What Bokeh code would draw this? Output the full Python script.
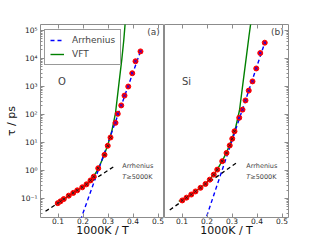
from bokeh.plotting import figure
from bokeh.layouts import row
from bokeh.models import (Range1d, LogAxis, LinearAxis, FixedTicker,
                          CustomJSTickFormatter, Label, CustomLabelingPolicy)
from bokeh.embed import file_html
from bokeh.resources import INLINE

# ---------------- data (x = 1000K/T, tau in ps) ----------------
o_x = [0.099, 0.110, 0.123, 0.143, 0.161, 0.177, 0.197, 0.214, 0.230, 0.243, 0.261,
       0.286, 0.299, 0.310, 0.330, 0.339, 0.353, 0.366, 0.381, 0.397, 0.410, 0.430]
o_tau = [0.068, 0.079, 0.095, 0.126, 0.158, 0.195, 0.25, 0.32, 0.44, 0.60, 1.20,
         3.6, 7.6, 15, 50, 105, 210, 470, 990, 2950, 7900, 17800]
o_vft_x = [0.090, 0.120, 0.150, 0.180, 0.210, 0.240, 0.260, 0.280, 0.300, 0.315,
           0.330, 0.345, 0.355, 0.363, 0.370]
o_vft_tau = [0.060, 0.093, 0.135, 0.20, 0.31, 0.575, 1.10, 2.8, 8.5, 25,
             112, 1585, 8900, 43600, 251000]
o_arr_lo_x = [0.19, 0.432]
o_arr_lo_tau = [0.0168, 20000]
o_arr_hi_x = [0.05, 0.33]
o_arr_hi_tau = [0.0347, 1.50]

si_x = [0.101, 0.118, 0.137, 0.154, 0.174, 0.194, 0.211, 0.227, 0.241, 0.261, 0.278,
        0.291, 0.301, 0.310, 0.329, 0.342, 0.354, 0.367, 0.382, 0.397, 0.413, 0.431]
si_tau = [0.085, 0.107, 0.138, 0.178, 0.24, 0.33, 0.47, 0.71, 1.07, 2.14, 4.2,
          7.8, 13.5, 25, 76, 148, 316, 708, 1510, 4370, 15500, 36300]
si_vft_x = [0.087, 0.120, 0.150, 0.180, 0.210, 0.240, 0.260, 0.280, 0.300, 0.315,
            0.330, 0.345, 0.358, 0.368, 0.378]
si_vft_tau = [0.078, 0.112, 0.17, 0.263, 0.457, 1.05, 2.09, 4.8, 13.2, 35.5,
              141, 1585, 12600, 63000, 282000]
si_arr_lo_x = [0.19, 0.433]
si_arr_lo_tau = [0.0135, 40700]
si_arr_hi_x = [0.051, 0.321]
si_arr_hi_tau = [0.0389, 1.95]

panel_tags = ["(a)", "(b)"]
species = ["O", "Si"]
x_title = "1000K / T"
y_title = "τ / ps"
x_ticks = [0.1, 0.2, 0.3, 0.4, 0.5]
y_major = [1e-1, 1, 1e1, 1e2, 1e3, 1e4, 1e5]
y_minor = [m * 10.0 ** k for k in range(-2, 6) for m in range(2, 10)]

FONT = "DejaVu Sans"
XR = (0.03, 0.526)
YR = (10 ** -1.68, 10 ** 5.21)
GRAY = "#8c8c8c"

sup_code = """
const sup = {"-":"\u207b","0":"\u2070","1":"\u00b9","2":"\u00b2","3":"\u00b3","4":"\u2074",
             "5":"\u2075","6":"\u2076","7":"\u2077","8":"\u2078","9":"\u2079"};
const e = Math.round(Math.log10(tick));
return "10" + String(e).split("").map(c => sup[c]).join("");
"""


def style_axis(ax, labels, standoff=2):
    ax.axis_line_color = None
    ax.major_tick_in = 4
    ax.major_tick_out = 0
    ax.minor_tick_in = 2
    ax.minor_tick_out = 0
    ax.major_tick_line_color = GRAY
    ax.minor_tick_line_color = GRAY
    ax.major_label_text_font = FONT
    ax.major_label_text_color = "#222222"
    ax.axis_label_text_font = FONT
    ax.axis_label_text_font_style = "normal"
    ax.axis_label_text_color = "#111111"
    ax.axis_label_text_font_size = "11px"
    if labels:
        ax.major_label_text_font_size = "7.5px"
        ax.major_label_standoff = standoff
    else:
        ax.major_label_text_font_size = "1px"
        ax.major_label_standoff = 0
        ax.major_label_policy = CustomLabelingPolicy(code="return new Set()")


def make_panel(idx, xs, taus, vx, vt, lox, lot, hix, hit, first):
    p = figure(width=164 if first else 148, height=240,
               x_range=Range1d(*XR), y_range=Range1d(*YR), y_axis_type="log",
               output_backend="svg", toolbar_location=None,
               min_border_left=40 if first else 0, min_border_right=0 if first else 24,
               min_border_top=24, min_border_bottom=23)
    p.grid.visible = False
    p.outline_line_color = GRAY
    p.background_fill_color = "white"
    p.border_fill_color = "white"

    xa = p.xaxis[0]
    xa.ticker = FixedTicker(ticks=x_ticks)
    style_axis(xa, True, 0)
    xa.axis_label = x_title
    xa.axis_label_standoff = -3

    ya = p.yaxis[0]
    if first:
        ya.ticker = FixedTicker(ticks=y_major, minor_ticks=y_minor)
        ya.formatter = CustomJSTickFormatter(code=sup_code)
        style_axis(ya, True, 3)
        ya.axis_label = y_title
        ya.axis_label_standoff = 0
    else:
        ya.visible = False

    top = LinearAxis(ticker=FixedTicker(ticks=x_ticks))
    style_axis(top, False)
    p.add_layout(top, "above")

    # lines
    p.line(hix, hit, line_color="black", line_dash="4 3", line_width=1.3)
    if first:
        p.line(vx, vt, line_color="#008000", line_width=1.4, legend_label="VFT")
        p.line(lox, lot, line_color="#0000ff", line_dash="4 3", line_width=1.4,
               legend_label="Arrhenius")
    else:
        p.line(vx, vt, line_color="#008000", line_width=1.4)
        p.line(lox, lot, line_color="#0000ff", line_dash="4 3", line_width=1.4)

    # points
    p.scatter(xs, taus, marker="circle", size=5, fill_color="#ff0000", line_color="#ff0000")
    cols = ["#0000ff" if x >= 0.32 else "#222222" for x in xs]
    p.scatter(xs, taus, marker="x", size=3.5, line_color=cols, line_width=1)

    # annotations
    p.add_layout(Label(x=0.507, y=10 ** 4.93, text=panel_tags[idx], text_font=FONT,
                       text_font_size="9px", text_align="right", text_baseline="middle"))
    p.add_layout(Label(x=0.100, y=10 ** 3.19, text=species[idx], text_font=FONT,
                       text_font_size="10px", text_align="left", text_baseline="middle"))
    p.add_layout(Label(x=0.357, y=10 ** 0.15, text="Arrhenius", text_font=FONT,
                       text_font_size="6.5px", text_align="left", text_baseline="middle"))
    p.add_layout(Label(x=0.357, y=10 ** -0.22, text="T", text_font=FONT,
                       text_font_style="italic",
                       text_font_size="6.5px", text_align="left", text_baseline="middle"))
    p.add_layout(Label(x=0.357, y=10 ** -0.22, x_offset=4, text="≥5000K", text_font=FONT,
                       text_font_size="6.5px", text_align="left", text_baseline="middle"))

    if first:
        lg = p.legend[0]
        lg.location = (4, 152)
        lg.label_text_font = FONT
        lg.label_text_font_size = "9px"
        lg.glyph_width = 14
        lg.glyph_height = 10
        lg.label_standoff = 8
        lg.padding = 5
        lg.spacing = 4
        lg.margin = 0
        lg.border_line_color = "#333333"
        lg.border_line_width = 1
        lg.background_fill_alpha = 1
        lg.items = [lg.items[1], lg.items[0]]
    return p


p1 = make_panel(0, o_x, o_tau, o_vft_x, o_vft_tau, o_arr_lo_x, o_arr_lo_tau,
                o_arr_hi_x, o_arr_hi_tau, True)
p2 = make_panel(1, si_x, si_tau, si_vft_x, si_vft_tau, si_arr_lo_x, si_arr_lo_tau,
                si_arr_hi_x, si_arr_hi_tau, False)

r1 = LogAxis(ticker=FixedTicker(ticks=y_major, minor_ticks=y_minor))
style_axis(r1, False)
p2.add_layout(r1, "right")

layout = row(p1, p2)
open("out.html", "w").write(file_html(layout, INLINE))
